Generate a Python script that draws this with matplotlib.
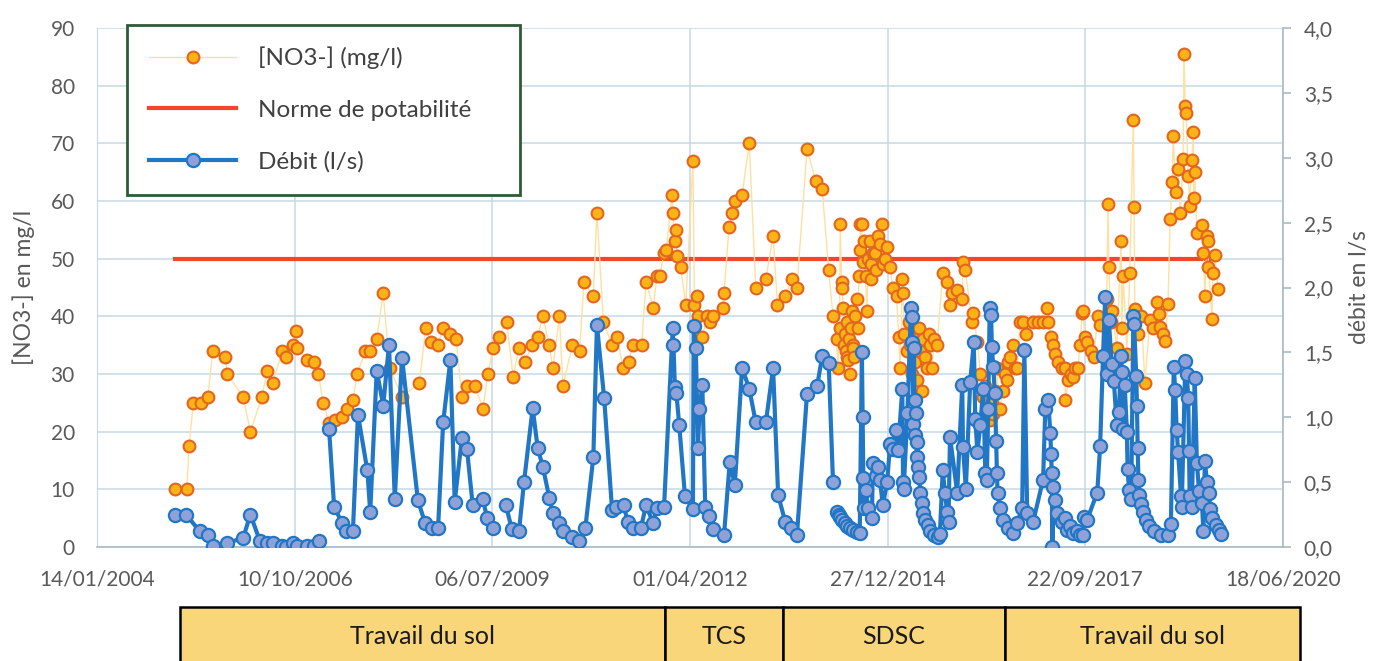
import numpy as np
import pandas as pd
import matplotlib
matplotlib.use("Agg")
import matplotlib.pyplot as plt
import matplotlib.dates as mdates
import matplotlib.transforms as mtransforms
from matplotlib.patches import Rectangle
from matplotlib.ticker import FuncFormatter

plt.rcParams['font.family'] = ['Lato', 'DejaVu Sans']

# sampling dates are kept as decimal years
no3_dates = [
    2005.12, 2005.28, 2005.31, 2005.37, 2005.48, 2005.57, 2005.64, 2005.81, 2005.84, 2006.06,
    2006.16, 2006.32, 2006.39, 2006.47, 2006.60, 2006.65, 2006.75, 2006.79, 2006.81, 2006.95,
    2007.04, 2007.10, 2007.17, 2007.25, 2007.33, 2007.43, 2007.50, 2007.58, 2007.64, 2007.75,
    2007.82, 2007.91, 2008.00, 2008.09, 2008.26, 2008.50, 2008.59, 2008.66, 2008.76, 2008.83,
    2008.93, 2009.01, 2009.09, 2009.16, 2009.27, 2009.38, 2009.45, 2009.52, 2009.60, 2009.71,
    2009.80, 2009.88, 2009.96, 2010.06, 2010.14, 2010.21, 2010.30, 2010.35, 2010.44, 2010.49,
    2010.62, 2010.72, 2010.78, 2010.91, 2010.96, 2011.05, 2011.17, 2011.24, 2011.32, 2011.40,
    2011.46, 2011.58, 2011.64, 2011.74, 2011.79, 2011.83, 2011.89, 2011.92, 2012.00, 2012.01,
    2012.04, 2012.06, 2012.07, 2012.12, 2012.19, 2012.29, 2012.31, 2012.35, 2012.36, 2012.42,
    2012.49, 2012.53, 2012.57, 2012.71, 2012.72, 2012.79, 2012.83, 2012.87, 2012.97, 2013.07,
    2013.16, 2013.30, 2013.40, 2013.46, 2013.57, 2013.66, 2013.73, 2013.87, 2013.99, 2014.08,
    2014.17, 2014.23, 2014.28, 2014.30, 2014.32, 2014.33, 2014.35, 2014.36, 2014.37, 2014.38,
    2014.40, 2014.41, 2014.42, 2014.43, 2014.44, 2014.45, 2014.47, 2014.48, 2014.49, 2014.50,
    2014.51, 2014.52, 2014.54, 2014.56, 2014.57, 2014.59, 2014.60, 2014.61, 2014.63, 2014.64,
    2014.66, 2014.68, 2014.70, 2014.72, 2014.74, 2014.75, 2014.76, 2014.78, 2014.81, 2014.83,
    2014.85, 2014.88, 2014.91, 2014.92, 2014.95, 2014.98, 2015.02, 2015.06, 2015.11, 2015.14,
    2015.16, 2015.19, 2015.20, 2015.22, 2015.25, 2015.28, 2015.30, 2015.33, 2015.35, 2015.37,
    2015.40, 2015.42, 2015.44, 2015.46, 2015.48, 2015.50, 2015.53, 2015.56, 2015.58, 2015.60,
    2015.63, 2015.67, 2015.75, 2015.81, 2015.85, 2015.88, 2015.95, 2016.02, 2016.03, 2016.06,
    2016.16, 2016.17, 2016.23, 2016.27, 2016.31, 2016.34, 2016.36, 2016.40, 2016.43, 2016.45,
    2016.48, 2016.50, 2016.54, 2016.58, 2016.61, 2016.64, 2016.66, 2016.68, 2016.72, 2016.75,
    2016.78, 2016.82, 2016.86, 2016.90, 2017.00, 2017.07, 2017.14, 2017.19, 2017.21, 2017.25,
    2017.28, 2017.31, 2017.35, 2017.40, 2017.44, 2017.45, 2017.49, 2017.53, 2017.55, 2017.58,
    2017.62, 2017.65, 2017.68, 2017.69, 2017.72, 2017.75, 2017.80, 2017.84, 2017.90, 2017.93,
    2018.02, 2018.04, 2018.05, 2018.08, 2018.10, 2018.16, 2018.22, 2018.23, 2018.25, 2018.30,
    2018.34, 2018.39, 2018.40, 2018.41, 2018.45, 2018.50, 2018.55, 2018.62, 2018.66, 2018.72,
    2018.74, 2018.76, 2018.80, 2018.83, 2018.87, 2018.90, 2018.93, 2018.94, 2018.98, 2019.01,
    2019.04, 2019.08, 2019.09, 2019.11, 2019.12, 2019.15, 2019.17, 2019.20, 2019.22, 2019.23,
    2019.24, 2019.27, 2019.34, 2019.36, 2019.38, 2019.41, 2019.42, 2019.43, 2019.48, 2019.49,
    2019.52, 2019.56,
]
no3_values = [
    10, 10, 17.5, 25, 25, 26, 34, 33, 30, 26,
    20, 26, 30.5, 28.5, 34, 33, 35, 37.5, 34.5, 32.5,
    32, 30, 25, 21.5, 22, 22.5, 24, 25.5, 30, 34,
    34, 36, 44, 31, 26, 28.5, 38, 35.5, 35, 38,
    37, 36, 26, 28, 28, 24, 30, 34.5, 36.5, 39,
    29.5, 34.5, 32, 35, 36.5, 40, 35, 31, 40, 28,
    35, 34, 46, 43.5, 58, 39, 35, 36.5, 31, 32,
    35, 35, 46, 41.5, 47, 47, 51, 51.5, 61, 58,
    53, 55, 50.5, 48.5, 42, 67, 42, 43.5, 40, 36.5,
    40, 39, 40, 41.5, 44, 55.5, 58, 60, 61, 70,
    45, 46.5, 54, 42, 43.5, 46.5, 45, 69, 63.5, 62,
    48, 40, 36, 31, 38, 56, 46, 45, 41.5, 35,
    37, 34, 39, 33, 32.5, 36, 30, 38, 41, 35,
    34.5, 33, 40, 43, 38, 47, 51.5, 56, 56, 49.5,
    53, 47, 41, 50, 53, 49, 46.5, 51, 51, 48,
    54, 52.5, 56, 49, 50, 52, 48.5, 45, 43.5, 36.5,
    31, 46.5, 44, 37, 34, 39, 35, 30, 36, 32,
    29, 38, 34, 27, 36, 33, 31, 37, 35, 31,
    36, 35, 47.5, 46, 42, 44, 44.5, 43, 49.5, 48,
    39, 40.5, 35.5, 30, 26, 28, 24, 22, 25, 23,
    27, 31, 24, 27, 30, 29, 32, 33, 35, 31,
    31, 39, 39, 37, 39, 39, 39, 41.5, 39, 36.5,
    35, 33.5, 32, 31, 31, 25.5, 29, 30, 29.5, 31,
    31, 35, 40.5, 41, 36.5, 35.5, 34, 33, 40, 38.5,
    43, 59.5, 48.5, 39, 41, 34.5, 53, 38, 47, 33.5,
    47.5, 74, 59, 41.3, 37, 40, 28.5, 39.3, 38, 42.5,
    40.4, 38.1, 37, 35.7, 42.2, 56.8, 63.3, 71.2, 61.5, 65.6,
    58, 67.3, 85.5, 76.4, 75.3, 64.4, 59.2, 67.1, 72, 60.6,
    65, 54.5, 55.9, 51, 43.6, 53.9, 53, 48.6, 39.5, 47.5,
    50.7, 44.8,
]

# nan = no measurement (the line is broken there)
debit_dates = [
    2005.12, 2005.27, 2005.46, 2005.57, 2005.64, 2005.84, 2006.06, 2006.16, 2006.29, 2006.39,
    2006.47, 2006.60, 2006.65, 2006.75, 2006.81, 2006.95, 2007.04, 2007.11, 2007.18, 2007.25,
    2007.32, 2007.43, 2007.49, 2007.58, 2007.65, 2007.78, 2007.82, 2007.91, 2008.00, 2008.08,
    2008.16, 2008.26, 2008.48, 2008.58, 2008.67, 2008.76, 2008.83, 2008.93, 2008.99, 2009.09,
    2009.16, 2009.24, 2009.38, 2009.44, 2009.52, 2009.60, 2009.70, 2009.78, 2009.88, 2009.95,
    2010.07, 2010.14, 2010.21, 2010.30, 2010.35, 2010.44, 2010.49, 2010.62, 2010.71, 2010.80,
    2010.91, 2010.96, 2011.06, 2011.17, 2011.22, 2011.33, 2011.39, 2011.46, 2011.57, 2011.64,
    2011.74, 2011.79, 2011.89, 2012.01, 2012.02, 2012.04, 2012.06, 2012.10, 2012.18, 2012.29,
    2012.30, 2012.33, 2012.36, 2012.38, 2012.42, 2012.46, 2012.51, 2012.57, 2012.72, 2012.80,
    2012.87, 2012.97, 2013.07, 2013.16, 2013.30, 2013.40, 2013.47, 2013.57, 2013.65, 2013.73,
    2013.87, 2014.01, 2014.08, 2014.17, 2014.23, 2014.26, 2014.29, 2014.31, 2014.33, 2014.36,
    2014.40, 2014.43, 2014.47, 2014.51, 2014.56, 2014.60, 2014.63, 2014.64, 2014.65, 2014.66,
    2014.68, 2014.72, 2014.77, 2014.78, 2014.82, 2014.85, 2014.88, 2014.92, 2014.98, 2015.02,
    2015.06, 2015.10, 2015.13, 2015.19, 2015.20, 2015.21, 2015.26, 2015.31, 2015.32, 2015.33,
    2015.34, 2015.35, 2015.36, 2015.37, 2015.38, 2015.39, 2015.40, 2015.41, 2015.42, 2015.44,
    2015.46, 2015.48, 2015.51, 2015.54, 2015.58, 2015.63, 2015.68, 2015.71, 2015.75, 2015.78,
    2015.81, 2015.83, 2015.85, 2015.95, 2016.02, 2016.03, 2016.07, 2016.13, 2016.18, 2016.20,
    2016.23, 2016.27, 2016.31, 2016.34, 2016.36, 2016.38, 2016.40, 2016.42, 2016.43, 2016.45,
    2016.47, 2016.49, 2016.50, 2016.51, 2016.54, 2016.58, 2016.65, 2016.72, 2016.78, 2016.85,
    2016.88, 2016.92, 2017.00, 2017.14, 2017.17, 2017.21, 2017.24, 2017.25, 2017.26, 2017.27,
    2017.28, 2017.31, 2017.33, 2017.40, 2017.44, 2017.47, 2017.51, 2017.55, 2017.61, 2017.65,
    2017.69, 2017.70, 2017.75, 2017.89, 2017.93, 2017.97, 2018.00, 2018.02, 2018.05, 2018.09,
    2018.12, 2018.16, 2018.19, 2018.22, 2018.23, 2018.24, 2018.27, 2018.30, 2018.31, 2018.33,
    2018.36, 2018.39, 2018.40, 2018.43, 2018.44, 2018.45, 2018.46, 2018.47, 2018.50, 2018.52,
    2018.57, 2018.61, 2018.68, 2018.77, 2018.87, 2018.91, 2018.95, 2018.97, 2018.99, 2019.01,
    2019.05, 2019.06, 2019.11, 2019.13, 2019.15, 2019.16, 2019.17, 2019.20, 2019.24, 2019.27,
    2019.30, 2019.34, 2019.36, 2019.38, 2019.41, 2019.44, 2019.45, 2019.48, 2019.53, 2019.57,
    2019.61,
]
debit_values = [
    0.25, 0.25, 0.12, 0.09, 0.01, 0.03, 0.07, 0.25, 0.05, 0.03,
    0.03, 0.01, 0.0, 0.03, 0.01, 0.01, 0.01, 0.05, np.nan, 0.91,
    0.31, 0.185, 0.12, 0.12, 1.02, 0.59, 0.27, 1.36, 1.09, 1.56,
    0.37, 1.46, 0.36, 0.185, 0.15, 0.15, 0.96, 1.44, 0.35, 0.84,
    0.755, 0.32, 0.37, 0.22, 0.15, np.nan, 0.32, 0.14, 0.12, 0.5,
    1.07, 0.76, 0.62, 0.38, 0.26, 0.185, 0.12, 0.08, 0.05, 0.15,
    0.69, 1.71, 1.15, 0.285, 0.31, 0.32, 0.19, 0.15, 0.15, 0.32,
    0.185, 0.3, 0.31, 1.69, 1.56, 1.23, 1.19, 0.94, 0.39, 0.29,
    1.70, 1.53, 0.76, 1.06, 1.25, 0.31, 0.24, 0.14, 0.09, 0.655,
    0.48, 1.38, 1.22, 0.96, 0.96, 1.38, 0.4, 0.19, 0.146, 0.09,
    1.18, 1.24, 1.47, 1.42, 0.5, np.nan, 0.27, 0.25, 0.23, 0.21,
    0.185, 0.16, 0.146, 0.13, 0.116, 0.108, 1.5, 1.0, 0.53, 0.3,
    0.44, 0.3, 0.22, 0.65, 0.55, 0.62, 0.52, 0.32, 0.5, 0.79,
    0.755, 0.9, 0.75, 1.22, 0.5, 0.45, 1.03, 1.84, 1.77, 1.58,
    0.95, 1.53, 1.13, 0.86, 1.03, 0.69, 0.81, 0.62, 0.54, 0.42,
    0.34, 0.26, 0.21, 0.17, 0.12, 0.09, 0.08, 0.1, 0.59, 0.42,
    0.27, 0.19, 0.85, 0.42, 1.25, 0.77, 0.45, 1.27, 1.58, 0.99,
    0.73, 0.94, 1.22, 0.57, 0.52, 1.06, 1.84, 1.79, 1.54, 1.39,
    1.19, 0.82, 0.57, 0.42, 0.3, 0.21, 0.146, 0.108, 0.185, 0.3,
    1.52, 0.26, 0.19, 0.52, 1.06, 1.13, 0.88, 0.72, 0.57, 0.0,
    0.46, 0.36, 0.26, 0.19, 0.22, 0.13, 0.16, 0.11, 0.12, 0.09,
    0.09, 0.235, 0.21, 0.42, 0.78, 1.47, 1.93, 1.33, 1.75, 1.41,
    1.28, 0.94, 1.04, 1.47, 1.35, 0.91, 1.25, 0.89, 0.60, 0.44,
    0.37, 1.78, 1.72, 1.32, 1.09, 0.76, 0.52, 0.40, 0.33, 0.27,
    0.21, 0.16, 0.12, 0.09, 0.09, 0.18, 1.39, 1.21, 0.90, 0.73,
    0.39, 0.31, 1.43, 1.33, 1.15, 0.74, 0.39, 0.31, 1.30, 0.65,
    0.43, 0.34, 0.12, 0.66, 0.50, 0.42, 0.29, 0.22, 0.17, 0.13,
    0.10,
]

norme_potabilite = 50  # mg/l

practice_labels = ["Travail du sol", "TCS", "SDSC", "Travail du sol"]
practice_starts = ["2005-03-08", "2011-11-25", "2013-07-16", "2016-08-11"]
practice_ends = ["2011-11-25", "2013-07-16", "2016-08-11", "2020-09-13"]


def to_dates(years):
    years = np.asarray(years, dtype=float)
    return pd.Timestamp("2004-01-01") + pd.to_timedelta((years - 2004) * 365.25, unit="D")


no3_t = to_dates(no3_dates)
debit_t = to_dates(debit_dates)

W, H = 1373, 661
fig = plt.figure(figsize=(W / 100, H / 100), dpi=100)
ax = fig.add_axes([97 / W, 1 - 547 / H, 1186 / W, 519 / H])
ax2 = ax.twinx()

grid_col = "#C6D8E5"
axis_col = "#A8BAC6"
text_col = "#595959"

norme_line, = ax.plot([no3_t[0], no3_t[-1]], [norme_potabilite] * 2,
                      color="#F2452A", lw=3, zorder=2)
no3_line, = ax.plot(no3_t, no3_values, color="#FFE0A0", lw=1,
                    marker="o", ms=8.5, mfc="#FDB216", mec="#E2661F", mew=1.5, zorder=3)
debit_line, = ax2.plot(debit_t, debit_values, color="#2177C5", lw=3,
                       marker="o", ms=9.5, mfc="#8FA2D8", mec="#2177C5", mew=1.6)

ax.set_xlim(pd.Timestamp("2004-01-14"), pd.Timestamp("2020-06-18"))
ax.set_xticks(pd.date_range("2004-01-14", periods=7, freq="1000D"))
ax.xaxis.set_major_formatter(mdates.DateFormatter("%d/%m/%Y"))

ax.set_ylim(0, 90)
ax.set_yticks(range(0, 91, 10))
ax2.set_ylim(0, 4)
ax2.set_yticks(np.arange(0, 4.01, 0.5))
ax2.yaxis.set_major_formatter(FuncFormatter(lambda v, p: f"{v:.1f}".replace(".", ",")))

ax.grid(True, color=grid_col, lw=1.1)
ax.set_axisbelow(True)

for a in (ax, ax2):
    a.spines["top"].set_visible(False)
ax.spines["right"].set_visible(False)
ax.spines["left"].set_color(grid_col)
ax.spines["bottom"].set_color(axis_col)
ax.spines["bottom"].set_linewidth(1.2)
ax2.spines["left"].set_visible(False)
ax2.spines["bottom"].set_visible(False)
ax2.spines["right"].set_color(axis_col)
ax2.spines["right"].set_linewidth(1.2)

ax.tick_params(axis="y", length=0, pad=16, labelsize=15, labelcolor=text_col)
ax.tick_params(axis="x", length=0, pad=16, labelsize=15, labelcolor=text_col)
ax2.tick_params(axis="y", length=6, width=1.2, color=axis_col, pad=9,
                labelsize=15, labelcolor=text_col)

ax.set_ylabel("[NO3-] en mg/l", fontsize=16.5, color=text_col)
ax.yaxis.set_label_coords(-0.052, 0.5)
ax2.set_ylabel("débit en l/s", fontsize=16.5, color=text_col)
ax2.yaxis.set_label_coords(1.056, 0.5)

leg = ax2.legend([no3_line, norme_line, debit_line],
                 ["[NO3-] (mg/l)", "Norme de potabilité", "Débit (l/s)"],
                 loc="upper left", bbox_to_anchor=(0.0253, 0.0, 0.331, 1.006),
                 mode="expand", borderaxespad=0, fancybox=False, framealpha=1,
                 edgecolor="#2E5B36", fontsize=17.5, handlelength=3.6,
                 handletextpad=0.9, labelspacing=1.25, borderpad=0.9)
leg.get_frame().set_linewidth(2)
for t in leg.get_texts():
    t.set_color("#404040")

# farming practice bands under the x axis
trans = mtransforms.blended_transform_factory(ax.transData, fig.transFigure)
box_top = 1 - 607 / H
for label, start, end in zip(practice_labels, practice_starts, practice_ends):
    x0 = mdates.date2num(pd.Timestamp(start))
    x1 = mdates.date2num(pd.Timestamp(end))
    fig.add_artist(Rectangle((x0, -0.1), x1 - x0, box_top + 0.1, transform=trans,
                             facecolor="#FAD67A", edgecolor="black", lw=1.8, clip_on=False))
    fig.text((x0 + x1) / 2, 1 - 637 / H, label, transform=trans,
             ha="center", va="center", fontsize=18, color="#1A1A1A")

fig.savefig("out.png", dpi=100)
